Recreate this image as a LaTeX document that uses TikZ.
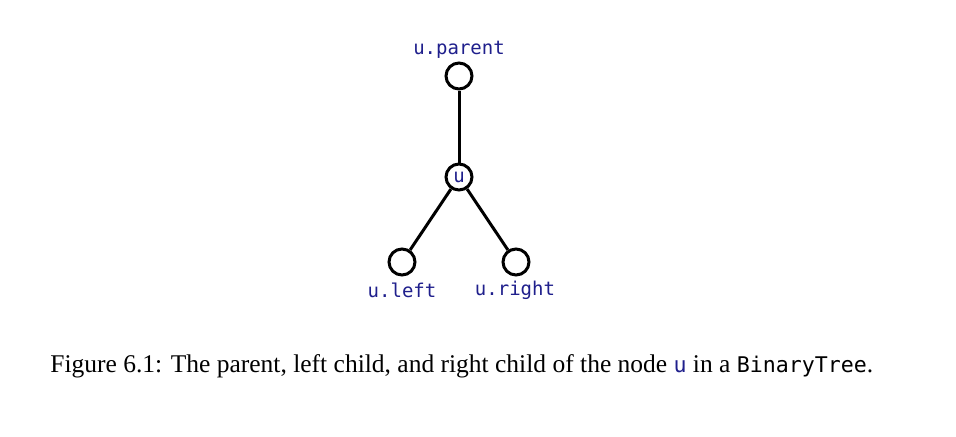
\documentclass[tikz,border=0pt]{standalone}
\usepackage{fontspec}
\setmainfont{Liberation Serif}
\setmonofont{DejaVu Sans Mono}
\definecolor{codeblue}{rgb}{0.12,0.12,0.55}
\begin{document}
\begin{tikzpicture}[x=0.5pt,y=-0.5pt,
  treenode/.style={circle,draw=black,line width=1.5pt,minimum size=13pt,inner sep=0pt,fill=white},
  edge/.style={line width=1.5pt},
  lbl/.style={font=\fontsize{9.5}{11}\ttfamily,text=codeblue,inner sep=0pt,anchor=base}]
\useasboundingbox (0,0) rectangle (956,436);
\node[treenode] (p) at (459,76) {};
\node[treenode,font=\fontsize{9.5}{11}\ttfamily,text=codeblue] (u) at (459,177) {u};
\node[treenode] (l) at (402,262) {};
\node[treenode] (r) at (516,262) {};
\draw[edge] (p) -- (u);
\draw[edge] (u) -- (l);
\draw[edge] (u) -- (r);
\node[lbl] (pl) at (459,54) {u.parent};
\node[lbl] (ll) at (402,297) {u.left};
\node[lbl] (rl) at (515,295) {u.right};
\node[anchor=base west,inner sep=0pt,font=\fontsize{12.75}{15}\selectfont] (cap) at (50,372)
  {Figure 6.1: The parent, left child, and right child of the node \textcolor{codeblue}{\fontsize{10.8}{13}\ttfamily u} in a {\fontsize{10.8}{13}\ttfamily BinaryTree}.};
\end{tikzpicture}
\end{document}
